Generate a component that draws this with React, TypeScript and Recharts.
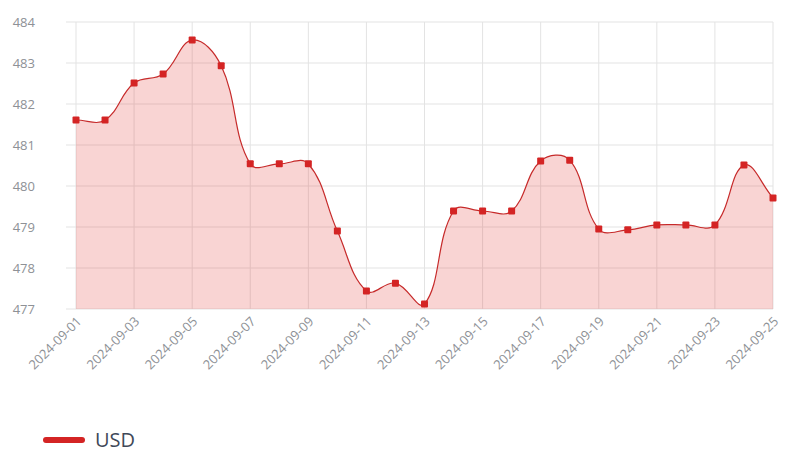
import React from 'react';
import { AreaChart, Area, XAxis, YAxis, CartesianGrid } from 'recharts';

const dates = [
  '2024-09-01', '2024-09-02', '2024-09-03', '2024-09-04', '2024-09-05', '2024-09-06',
  '2024-09-07', '2024-09-08', '2024-09-09', '2024-09-10', '2024-09-11', '2024-09-12',
  '2024-09-13', '2024-09-14', '2024-09-15', '2024-09-16', '2024-09-17', '2024-09-18',
  '2024-09-19', '2024-09-20', '2024-09-21', '2024-09-22', '2024-09-23', '2024-09-24',
  '2024-09-25',
];
const usd = [
  481.61, 481.61, 482.51, 482.73, 483.56, 482.93,
  480.54, 480.54, 480.54, 478.9, 477.44, 477.63,
  477.12, 479.39, 479.39, 479.39, 480.61, 480.63,
  478.95, 478.93, 479.05, 479.05, 479.05, 480.51,
  479.71,
];
const yTicks = [477, 478, 479, 480, 481, 482, 483, 484];
const seriesName = 'USD';

const data = dates.map((d, i) => ({ date: d, USD: usd[i] }));

// Chart.js-style spline (tension 0.4) as a d3 curve factory
const TENSION = 0.4;
function chartjsCurve(context: any) {
  let pts: number[][] = [];
  let line = NaN;
  const draw = () => {
    const n = pts.length;
    if (!n) return;
    if (line) context.lineTo(pts[0][0], pts[0][1]);
    else context.moveTo(pts[0][0], pts[0][1]);
    if (n === 1) return;
    const cps = pts.map((p, i) => {
      const prev = pts[i - 1] || p;
      const next = pts[i + 1] || p;
      const d01 = Math.hypot(p[0] - prev[0], p[1] - prev[1]);
      const d12 = Math.hypot(next[0] - p[0], next[1] - p[1]);
      let s01 = d01 / (d01 + d12);
      let s12 = d12 / (d01 + d12);
      if (isNaN(s01)) s01 = 0;
      if (isNaN(s12)) s12 = 0;
      const fa = TENSION * s01;
      const fb = TENSION * s12;
      return {
        px: p[0] - fa * (next[0] - prev[0]),
        py: p[1] - fa * (next[1] - prev[1]),
        nx: p[0] + fb * (next[0] - prev[0]),
        ny: p[1] + fb * (next[1] - prev[1]),
      };
    });
    for (let i = 1; i < n; i++) {
      context.bezierCurveTo(cps[i - 1].nx, cps[i - 1].ny, cps[i].px, cps[i].py, pts[i][0], pts[i][1]);
    }
  };
  return {
    areaStart() { line = 0; },
    areaEnd() { line = NaN; },
    lineStart() { pts = []; },
    lineEnd() {
      draw();
      if (line || (line !== 0 && pts.length === 1)) context.closePath();
      line = 1 - line;
    },
    point(x: number, y: number) { pts.push([+x, +y]); },
  };
}

const XTick = (props: any) => {
  const { x, y, payload } = props;
  const ax = x + 3;
  return (
    <text
      x={ax}
      y={y}
      dy="0.35em"
      textAnchor="end"
      transform={`rotate(-45 ${ax} ${y})`}
      fill="#8e9196"
      fontSize={13}
      fontFamily="'Open Sans', sans-serif"
    >
      {payload.value}
    </text>
  );
};

const SquareDot = (props: any) => {
  const { cx, cy } = props;
  if (cx == null || cy == null) return null;
  return <rect x={cx - 3.5} y={cy - 3.5} width={7} height={7} rx={1} fill="#d42424" />;
};

export default function App() {
  return (
    <div style={{ margin: -8, width: 800, height: 461, position: 'relative', background: '#fff' }}>
      <AreaChart
        width={800}
        height={461}
        data={data}
        margin={{ top: 22, right: 27, bottom: 52, left: 0 }}
      >
        <CartesianGrid stroke="#e3e3e3" strokeWidth={1} />
        <XAxis
          dataKey="date"
          interval={1}
          axisLine={false}
          tickLine={false}
          tickSize={0}
          tickMargin={10}
          height={100}
          tick={<XTick />}
        />
        <YAxis
          domain={[477, 484]}
          ticks={yTicks}
          width={76}
          axisLine={false}
          tickLine={{ stroke: '#e3e3e3' }}
          tickSize={10}
          tickMargin={31}
          tick={{ fill: '#8e9196', fontSize: 13, fontFamily: "'Open Sans', sans-serif" }}
        />
        <Area
          dataKey="USD"
          name={seriesName}
          type={chartjsCurve as any}
          stroke="#c62a2a"
          strokeWidth={1.2}
          fill="#e53935"
          fillOpacity={0.22}
          dot={<SquareDot />}
          activeDot={false}
          isAnimationActive={false}
        />
      </AreaChart>
      <div
        style={{
          position: 'absolute',
          left: 43,
          top: 428,
          display: 'flex',
          alignItems: 'center',
          fontFamily: "'Open Sans', sans-serif",
        }}
      >
        <div style={{ width: 42, height: 6, borderRadius: 3, background: '#d42424' }} />
        <span style={{ marginLeft: 10, fontSize: 20, color: '#3f4858', lineHeight: '24px' }}>{seriesName}</span>
      </div>
    </div>
  );
}
